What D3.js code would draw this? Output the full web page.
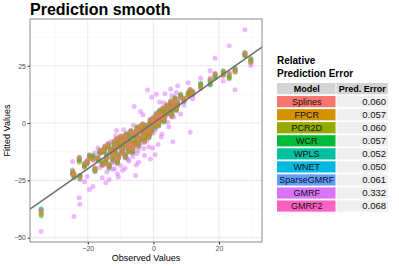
<!DOCTYPE html>
<html>
<head>
<meta charset="utf-8">
<script src="https://cdn.jsdelivr.net/npm/d3@7"></script>
<style>
  body { margin: 0; background: #fff; }
  svg { display: block; font-family: "Liberation Sans", Arial, sans-serif; }
</style>
</head>
<body>
<svg id="chart" width="399" height="266"></svg>
<script>
// models in legend order, with their ggplot hue colours
var models = ["Splines", "FPCR", "PCR2D", "WCR", "WPLS", "WNET", "SparseGMRF", "GMRF", "GMRF2"];
var modelColors = ["#F8766D", "#D39200", "#93AA00", "#00BA38", "#00C19F", "#00B9E3", "#619CFF", "#DB72FB", "#FF61C3"];
var predErrors = ["0.060", "0.057", "0.060", "0.057", "0.052", "0.050", "0.061", "0.332", "0.068"];

var xTicks = [-20, 0, 20];
var yTicks = [-50, -25, 0, 25];
var xMinor = [-30, -10, 10, 30];
var yMinor = [-37.5, -12.5, 12.5, 37.5];

// linear smooth: [intercept, slope]
var smoothCoef = [0, 1];

var observed = [-34.2,-24.6,-24.2,-22.6,-22.4,-21.0,-18.4,-17.8,-16.3,-15.6,
  -14.8,-14.2,-13.5,-13.0,-12.4,-12.0,-11.5,-11.0,-10.5,-10.0,
  -9.6,-9.1,-8.6,-8.2,-7.7,-7.2,-6.8,-6.3,-5.9,-5.4,
  -5.0,-4.5,-4.1,-3.6,-3.2,-2.7,-2.3,-1.8,-1.4,-0.9,
  -0.5,0.0,0.5,0.9,1.4,1.9,2.4,2.9,3.5,4.1,
  4.7,5.3,5.9,6.6,7.4,8.3,9.3,10.6,11.2,12.0,
  14.4,17.3,18.8,21.3,23.1,24.9,27.9,29.7,
  -20.2,-19.5,-16.9,-15.2,-14.5,-13.8,-12.7,-11.8,-11.2,-10.7,
  -9.9,-9.4,-8.9,-8.0,-7.4,-6.6,-6.1,-5.2,-4.7,-3.9,
  -3.0,-2.0,-1.1,-0.2,0.7,1.6,2.6,3.2,4.4,5.6,6.2,7.0];

var fitSplines = [-38.2,-22.4,-21.9,-15.4,-23.9,-17.5,-16.2,-19.7,-12.2,-18.5,
  -9.9,-15.0,-18.4,-11.0,-16.7,-8.0,-13.6,-15.9,-10.8,-5.9,
  -13.4,-7.6,-14.2,-5.9,-9.9,-8.6,-3.6,-11.5,-9.3,-4.7,
  -3.2,-9.2,-5.8,-3.6,-0.4,-8.5,-3.7,-1.5,-6.5,1.7,
  -2.4,0.7,-0.5,3.2,1.3,4.2,2.2,6.7,2.2,8.0,
  4.3,9.7,6.3,9.5,9.6,11.3,10.7,11.7,14.8,13.3,
  15.0,19.6,21.7,20.6,22.0,22.4,30.5,26.3,
  -16.5,-15.5,-15.0,-11.6,-17.7,-9.0,-13.4,-10.1,-6.8,-15.3,
  -7.7,-11.5,-5.5,-9.6,-11.2,-4.7,-10.4,-3.5,-7.0,-1.2,
  -5.6,-2.3,-3.7,0.6,2.9,0.2,3.3,1.9,6.4,2.8,8.6,6.7];

var fitFPCR = [-39.8,-20.9,-23.6,-17.2,-22.8,-19.1,-14.3,-21.0,-13.1,-17.2,
  -11.6,-13.8,-19.5,-12.3,-14.9,-9.4,-12.7,-17.5,-9.6,-7.0,
  -11.8,-9.5,-15.0,-4.8,-11.3,-6.9,-4.6,-12.8,-8.2,-6.4,
  -1.8,-10.1,-7.3,-2.7,-1.6,-6.6,-5.2,-0.9,-5.2,0.0,
  -3.5,2.3,-1.9,4.1,-0.5,5.4,1.2,5.2,3.9,6.7,
  5.3,8.1,6.8,11.0,7.7,12.4,9.5,13.1,13.1,12.5,
  17.2,17.1,20.1,22.6,19.6,23.7,29.4,27.9,
  -17.6,-14.1,-16.3,-12.7,-16.3,-10.3,-12.4,-11.2,-8.0,-14.1,
  -9.0,-10.4,-6.8,-8.4,-12.5,-5.9,-9.2,-4.7,-8.1,-2.5,
  -4.4,-3.6,-4.9,-0.7,1.8,-1.1,4.5,0.6,5.3,4.1,7.3,5.6];

var fitPCR2D = [-38.9,-21.2,-22.5,-15.1,-24.3,-18.0,-15.6,-19.5,-11.8,-18.2,
  -10.4,-15.3,-17.9,-12.5,-15.2,-7.9,-14.0,-16.3,-10.6,-5.6,
  -12.9,-8.1,-13.6,-6.1,-10.1,-8.0,-3.2,-11.4,-9.6,-5.1,
  -2.0,-8.7,-6.2,-4.0,-0.3,-7.8,-3.9,-2.2,-6.3,1.3,
  -2.1,1.0,-0.6,2.7,0.8,4.0,2.6,6.5,2.6,7.9,
  3.9,9.4,5.5,9.8,9.0,11.0,10.9,11.9,14.4,14.0,
  15.8,18.7,21.3,21.1,21.2,22.2,30.8,26.7,
  -16.7,-15.2,-15.3,-11.8,-17.4,-9.2,-13.3,-10.3,-7.1,-15.1,
  -8.0,-11.3,-5.8,-9.3,-11.5,-4.9,-10.1,-3.7,-7.2,-1.4,
  -5.3,-2.6,-3.9,0.3,2.7,-0.1,3.5,1.6,6.2,3.1,8.3,6.5];

var fitWCR = [-40.5,-22.0,-23.3,-16.6,-22.9,-18.8,-14.6,-20.7,-12.8,-17.4,
  -11.3,-14.1,-19.0,-11.4,-15.9,-9.0,-12.9,-17.1,-9.9,-6.7,
  -12.2,-9.2,-14.7,-5.0,-11.0,-7.2,-4.3,-12.5,-8.5,-6.1,
  -2.9,-9.8,-7.0,-3.0,-1.3,-7.0,-4.9,-1.2,-5.5,0.3,
  -3.2,1.9,-1.6,3.8,-0.2,5.1,1.5,5.5,3.6,7.0,
  5.0,8.4,6.5,10.7,8.0,12.1,9.8,12.8,13.4,12.8,
  16.9,16.6,19.7,22.3,19.9,23.4,29.7,27.6,
  -17.3,-14.4,-16.0,-12.4,-16.6,-10.0,-12.7,-10.9,-7.7,-14.4,
  -8.7,-10.7,-6.5,-8.7,-12.2,-5.6,-9.5,-4.4,-7.8,-2.2,
  -4.7,-3.3,-4.6,-0.4,2.1,-0.8,4.2,0.9,5.6,3.8,7.6,5.9];

var fitWPLS = [-37.4,-21.8,-22.7,-15.6,-23.2,-17.8,-15.3,-19.9,-12.0,-18.0,
  -10.7,-14.9,-18.2,-11.6,-15.4,-8.3,-13.2,-16.5,-10.4,-6.0,
  -12.7,-8.5,-14.0,-5.6,-10.3,-7.8,-3.7,-11.8,-9.1,-5.5,
  -2.3,-9.0,-6.5,-3.5,-0.7,-7.5,-4.2,-1.8,-6.1,1.0,
  -2.6,1.3,-1.0,3.0,0.5,4.5,2.1,6.2,2.9,7.6,
  4.4,9.1,5.8,10.1,8.7,11.4,10.5,12.2,14.1,13.6,
  16.1,18.4,21.0,21.5,20.8,22.7,30.3,26.9,
  -16.9,-14.9,-15.7,-12.0,-17.1,-9.5,-13.1,-10.5,-7.3,-14.9,
  -8.2,-11.1,-6.0,-9.1,-11.7,-5.1,-9.8,-3.9,-7.4,-1.7,
  -5.1,-2.8,-4.1,0.1,2.5,-0.3,3.7,1.4,6.0,3.3,8.1,6.3];

var fitWNET = [-37.8,-21.4,-23.1,-16.3,-23.4,-18.3,-15.1,-20.4,-12.6,-17.6,
  -11.1,-14.4,-18.9,-11.9,-15.7,-8.8,-13.3,-16.9,-10.1,-6.5,
  -12.4,-8.9,-14.4,-5.2,-10.8,-7.4,-4.0,-12.2,-8.8,-5.9,
  -2.6,-9.5,-6.8,-3.2,-1.0,-7.2,-4.6,-1.5,-5.8,0.6,
  -2.9,1.7,-1.3,3.5,0.1,4.8,1.8,5.8,3.3,7.3,
  4.7,8.7,6.2,10.4,8.3,11.8,10.1,12.5,13.7,13.1,
  16.5,17.8,20.6,21.9,20.3,23.1,29.9,27.3,
  -17.1,-14.7,-15.5,-12.2,-16.9,-9.7,-12.9,-10.7,-7.5,-14.7,
  -8.4,-10.9,-6.2,-8.9,-11.9,-5.3,-9.7,-4.1,-7.6,-1.9,
  -4.9,-3.0,-4.3,-0.1,2.3,-0.5,3.9,1.2,5.8,3.5,7.9,6.1];

var fitSparseGMRF = [-39.3,-20.5,-24.0,-14.8,-24.6,-19.4,-14.1,-21.3,-13.4,-16.9,
  -11.9,-13.5,-19.8,-12.8,-14.6,-9.7,-12.4,-17.8,-9.3,-7.3,
  -11.5,-9.9,-15.3,-4.5,-11.6,-6.6,-4.9,-13.1,-7.9,-6.7,
  -1.5,-10.4,-7.6,-2.4,-1.9,-6.3,-5.5,-0.6,-4.9,-0.3,
  -3.8,2.6,-2.2,4.4,-0.8,5.7,0.9,4.9,4.2,6.4,
  5.6,7.8,7.1,11.3,7.4,12.7,9.2,13.4,12.8,12.2,
  17.5,16.8,19.8,22.9,19.3,24.0,29.1,28.2,
  -18.0,-13.8,-16.7,-13.0,-16.0,-10.6,-12.1,-11.5,-8.3,-13.8,
  -9.3,-10.1,-7.1,-8.1,-12.8,-6.2,-8.9,-5.0,-8.4,-2.8,
  -4.1,-3.9,-5.2,-1.0,1.5,-1.4,4.8,0.3,5.0,4.4,7.0,5.3];

var fitGMRF = [-47.3,-16.8,-40.8,-32.6,-35.4,-25.6,-27.7,-13.0,-19.4,-23.9,
  -12.3,-21.4,-24.6,-8.2,-20.2,-16.9,-5.5,-22.1,-14.8,-18.5,
  -9.8,-2.9,-19.7,-12.2,-16.0,-3.6,-10.5,-14.6,7.2,-22.9,
  -13.3,-17.1,-2.2,-8.7,3.6,-14.2,-1.4,14.4,-10.4,-15.7,
  11.3,-4.3,-13.8,12.6,-9.4,9.2,-6.1,1.8,12.8,4.1,
  -1.7,14.9,-8.2,6.7,16.3,3.9,7.8,17.6,-4.0,10.6,
  19.7,22.8,28.3,18.4,33.7,14.5,40.7,25.1,
  -23.3,-29.0,-10.9,-18.3,-26.1,-15.1,-17.8,-19.9,-3.2,-23.5,
  -12.9,-20.6,-7.0,-15.2,-16.6,-11.6,-1.0,-18.2,-12.0,5.0,
  -11.1,-7.8,1.1,-10.9,-2.9,4.8,-4.8,8.9,0.3,11.9,2.6,13.3];

var fitGMRF2 = [-38.1,-22.2,-22.3,-15.9,-23.0,-18.6,-15.9,-19.8,-12.3,-18.4,
  -10.2,-14.7,-18.5,-11.2,-16.4,-8.2,-13.8,-16.1,-10.7,-6.1,
  -13.1,-7.9,-14.1,-5.8,-10.0,-8.3,-3.4,-11.6,-9.4,-4.9,
  -3.1,-9.1,-6.0,-3.8,-0.5,-8.1,-3.9,-1.9,-6.4,1.5,
  -2.3,0.9,-0.7,3.1,1.0,4.3,2.3,6.4,2.5,7.8,
  4.2,9.5,5.9,9.7,9.3,11.2,10.8,11.9,14.6,13.5,
  15.4,19.2,21.5,20.9,21.7,22.5,30.6,26.5,
  -16.4,-15.6,-14.9,-11.5,-17.8,-8.9,-13.6,-10.0,-6.7,-15.5,
  -7.6,-11.7,-5.4,-9.7,-11.1,-4.6,-10.5,-3.4,-6.9,-1.1,
  -5.7,-2.2,-3.6,0.7,3.0,0.3,3.2,2.0,6.5,2.7,8.7,6.8];

var fitted = [fitSplines, fitFPCR, fitPCR2D, fitWCR, fitWPLS, fitWNET, fitSparseGMRF, fitGMRF, fitGMRF2];

var svg = d3.select("#chart");

var panel = {left: 30, right: 262, top: 19, bottom: 242};

var x = d3.scaleLinear().domain([-37.6, 33.1]).range([panel.left, panel.right]);
var y = d3.scaleLinear().domain([-51.9, 45.4]).range([panel.bottom, panel.top]);

// title
svg.append("text")
    .attr("x", panel.left).attr("y", 15)
    .attr("font-size", 16).attr("font-weight", "bold")
    .attr("fill", "#000")
    .text("Prediction smooth");

// grid
var grid = svg.append("g");

grid.selectAll(".xminor").data(xMinor).enter().append("line")
    .attr("x1", d => x(d)).attr("x2", d => x(d))
    .attr("y1", panel.top).attr("y2", panel.bottom)
    .attr("stroke", "#f2f2f2").attr("stroke-width", 0.6);

grid.selectAll(".yminor").data(yMinor).enter().append("line")
    .attr("y1", d => y(d)).attr("y2", d => y(d))
    .attr("x1", panel.left).attr("x2", panel.right)
    .attr("stroke", "#f2f2f2").attr("stroke-width", 0.6);

grid.selectAll(".xmajor").data(xTicks).enter().append("line")
    .attr("x1", d => x(d)).attr("x2", d => x(d))
    .attr("y1", panel.top).attr("y2", panel.bottom)
    .attr("stroke", "#ebebeb").attr("stroke-width", 1.1);

grid.selectAll(".ymajor").data(yTicks).enter().append("line")
    .attr("y1", d => y(d)).attr("y2", d => y(d))
    .attr("x1", panel.left).attr("x2", panel.right)
    .attr("stroke", "#ebebeb").attr("stroke-width", 1.1);

// points: drawn last model first so Splines ends up on top
var points = [];
for (var m = models.length - 1; m >= 0; m--)
{
    fitted[m].forEach((v, i) => points.push({model: m, obs: observed[i], fit: v}));
}

svg.append("g").selectAll("circle").data(points).enter().append("circle")
    .attr("cx", d => x(d.obs))
    .attr("cy", d => y(d.fit))
    .attr("r", 2.5)
    .attr("fill", d => modelColors[d.model])
    .attr("fill-opacity", 0.5);

// smooth line
var lineX = x.domain();
svg.append("line")
    .attr("x1", x(lineX[0])).attr("y1", y(smoothCoef[0] + smoothCoef[1] * lineX[0]))
    .attr("x2", x(lineX[1])).attr("y2", y(smoothCoef[0] + smoothCoef[1] * lineX[1]))
    .attr("stroke", "#6e6e6e").attr("stroke-width", 1.5);

// panel border
svg.append("rect")
    .attr("x", panel.left).attr("y", panel.top)
    .attr("width", panel.right - panel.left).attr("height", panel.bottom - panel.top)
    .attr("fill", "none").attr("stroke", "#8a8a8a").attr("stroke-width", 1);

// axes
var xAxis = svg.append("g")
    .attr("transform", "translate(0," + panel.bottom + ")")
    .call(d3.axisBottom(x).tickValues(xTicks).tickSize(2.5).tickPadding(1.5).tickFormat(d => d < 0 ? "\u2212" + Math.abs(d) : d));

var yAxis = svg.append("g")
    .attr("transform", "translate(" + panel.left + ",0)")
    .call(d3.axisLeft(y).tickValues(yTicks).tickSize(2.5).tickPadding(1.5).tickFormat(d => d < 0 ? "\u2212" + Math.abs(d) : d));

[xAxis, yAxis].forEach(a => {
    a.select(".domain").remove();
    a.selectAll(".tick line").attr("stroke", "#333");
    a.selectAll(".tick text").attr("fill", "#4d4d4d").attr("font-size", 7)
        .attr("font-family", "Liberation Sans, Arial, sans-serif");
});

svg.append("text")
    .attr("x", (panel.left + panel.right) / 2).attr("y", 261)
    .attr("text-anchor", "middle").attr("font-size", 9).attr("fill", "#000")
    .text("Observed Values");

svg.append("text")
    .attr("transform", "translate(10," + ((panel.top + panel.bottom) / 2) + ") rotate(-90)")
    .attr("text-anchor", "middle").attr("font-size", 9).attr("fill", "#000")
    .text("Fitted Values");

// legend table
var tbl = {left: 277, mid: 336.5, right: 388, headTop: 83, rowH: 13.05, boxH: 11.2};

svg.append("text").attr("x", tbl.left).attr("y", 64)
    .attr("font-size", 10).attr("font-weight", "bold").text("Relative");
svg.append("text").attr("x", tbl.left).attr("y", 77)
    .attr("font-size", 10).attr("font-weight", "bold").text("Prediction Error");

var head = svg.append("g");
head.append("rect").attr("x", tbl.left).attr("y", tbl.headTop)
    .attr("width", tbl.mid - tbl.left - 1).attr("height", tbl.boxH).attr("fill", "#d3d3d3");
head.append("rect").attr("x", tbl.mid).attr("y", tbl.headTop)
    .attr("width", tbl.right - tbl.mid).attr("height", tbl.boxH).attr("fill", "#d3d3d3");
head.append("text").attr("x", (tbl.left + tbl.mid) / 2).attr("y", tbl.headTop + 8.5)
    .attr("text-anchor", "middle").attr("font-size", 9).attr("font-weight", "bold").text("Model");
head.append("text").attr("x", (tbl.mid + tbl.right) / 2).attr("y", tbl.headTop + 8.5)
    .attr("text-anchor", "middle").attr("font-size", 9).attr("font-weight", "bold").text("Pred. Error");

var rows = svg.append("g").selectAll("g").data(models).enter().append("g")
    .attr("transform", (d, i) => "translate(0," + (tbl.headTop + (i + 1) * tbl.rowH) + ")");

rows.append("rect").attr("x", tbl.left).attr("y", 0)
    .attr("width", tbl.mid - tbl.left - 1).attr("height", tbl.boxH)
    .attr("fill", (d, i) => modelColors[i]);
rows.append("rect").attr("x", tbl.mid).attr("y", 0)
    .attr("width", tbl.right - tbl.mid).attr("height", tbl.boxH)
    .attr("fill", "#efefef");
rows.append("text").attr("x", (tbl.left + tbl.mid) / 2).attr("y", 8.7)
    .attr("text-anchor", "middle").attr("font-size", 9).attr("fill", "#111")
    .text(d => d);
rows.append("text").attr("x", tbl.right - 2).attr("y", 8.7)
    .attr("text-anchor", "end").attr("font-size", 9.5).attr("fill", "#111")
    .text((d, i) => predErrors[i]);
</script>
</body>
</html>
